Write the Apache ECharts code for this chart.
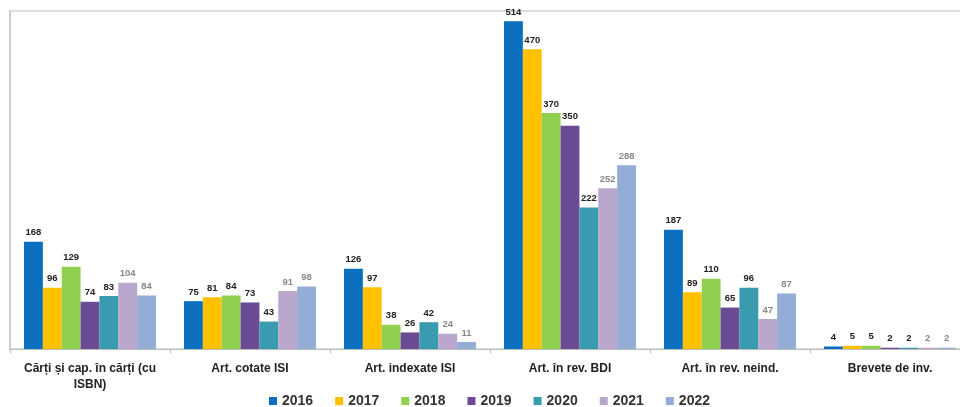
<!DOCTYPE html>
<html><head><meta charset="utf-8">
<script src="https://cdn.jsdelivr.net/npm/echarts@6/dist/echarts.min.js"></script>
<style>html,body{margin:0;padding:0;background:#fff}#c{width:960px;height:407px}</style>
</head><body><div id="c"></div>
<script>
const categories = ["Cărți și cap. în cărți (cu ISBN)", "Art. cotate ISI", "Art. indexate ISI", "Art. în rev. BDI", "Art. în rev. neind.", "Brevete de inv."];
const years = ["2016","2017","2018","2019","2020","2021","2022"];
const v2016 = [168, 75, 126, 514, 187, 4];
const v2017 = [96, 81, 97, 470, 89, 5];
const v2018 = [129, 84, 38, 370, 110, 5];
const v2019 = [74, 73, 26, 350, 65, 2];
const v2020 = [83, 43, 42, 222, 96, 2];
const v2021 = [104, 91, 24, 252, 47, 2];
const v2022 = [84, 98, 11, 288, 87, 2];
const values = [v2016, v2017, v2018, v2019, v2020, v2021, v2022];
const colors = ["#0B6FBF", "#FFC000", "#8FD14F", "#6B4C94", "#3A9BB0", "#B9A6CC", "#93ADD6"];
const labelColors = ["#222", "#222", "#222", "#222", "#222", "#888", "#888"];

const chart = echarts.init(document.getElementById('c'));
chart.setOption({
  animation: false,
  textStyle: {fontFamily: 'Liberation Sans'},
  grid: {left: 10, top: 11, width: 960, height: 338, outerBoundsMode: 'none', containLabel: false},
  legend: {
    left: 264, top: 389,
    itemWidth: 8, itemHeight: 8, itemGap: 22,
    icon: 'rect',
    textStyle: {fontWeight: 'bold', fontSize: 14, color: '#333'},
    data: years
  },
  xAxis: {
    type: 'category', data: categories,
    axisLine: {lineStyle: {color: '#bbb'}},
    axisTick: {show: true, length: 4, lineStyle: {color: '#bbb'}},
    axisLabel: {
      interval: 0, color: '#222', fontWeight: 'bold', fontSize: 12,
      margin: 12, lineHeight: 16,
      formatter: v => v.replace(' (cu ISBN)', ' (cu\nISBN)')
    }
  },
  yAxis: {
    type: 'value', min: 0, max: 530, interval: 530,
    axisLine: {show: true, lineStyle: {color: '#ccc', width: 2}},
    axisTick: {show: false},
    axisLabel: {show: false},
    splitLine: {lineStyle: {color: '#ddd', width: 2}}
  },
  series: years.map((y, i) => ({
    name: y, type: 'bar', data: values[i],
    barGap: '0%', barCategoryGap: '17.5%',
    itemStyle: {color: colors[i]},
    label: {
      show: true, position: 'top', distance: 4,
      fontSize: 9.5, fontWeight: 'bold', color: labelColors[i]
    }
  }))
});
</script></body></html>
